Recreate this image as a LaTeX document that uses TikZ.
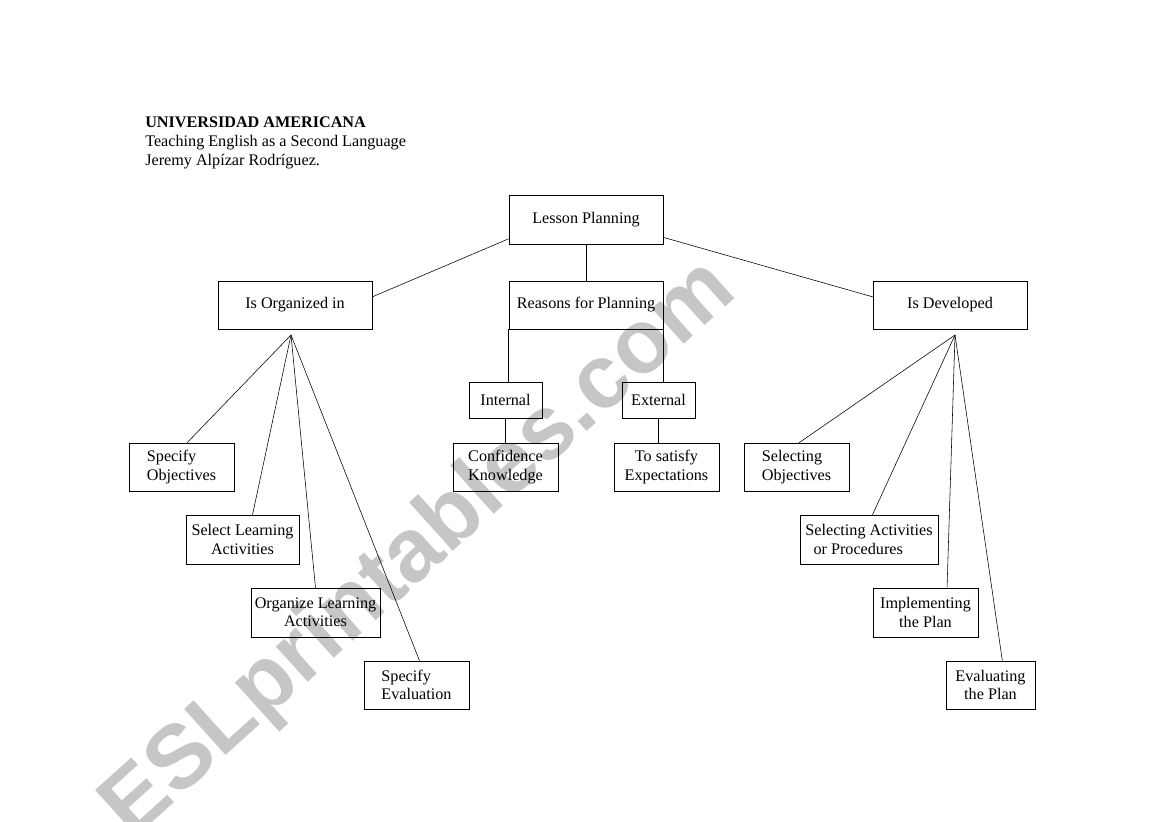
\documentclass[tikz,border=0pt]{standalone}
\usepackage{fontspec}
\setmainfont{Liberation Serif}
\newfontfamily\wmfont{Liberation Sans}
\usetikzlibrary{positioning}

\begin{document}
\begin{tikzpicture}[
    x=0.025cm, y=-0.025cm,
    font=\fontsize{11.5}{13}\selectfont,
    box/.style 2 args={draw, thin, inner sep=1pt, align=center, minimum width=#1*0.025cm, minimum height=#2*0.025cm},
    link/.style={draw, thin}
]
\useasboundingbox (0,0) rectangle (1169,821);

% watermark
\node[rotate=42, text=gray!45, font=\wmfont\bfseries\fontsize{64}{64}\selectfont] (wm) at (420,550) {ESLprintables.com};

% heading
\node[anchor=north west, align=left, inner sep=0pt, font=\fontsize{11.5}{13.5}\selectfont] (head) at (145,117)
    {\textbf{UNIVERSIDAD AMERICANA}\\Teaching English as a Second Language\\Jeremy Alpízar Rodríguez.};

% top levels
\node[box={154}{49}] (lp) at (586,219.5) {Lesson Planning};
\node[box={154}{48}] (org) at (295,305) {Is Organized in};
\node[box={154}{48}] (rfp) at (586,305) {Reasons for Planning};
\node[box={154}{48}] (dev) at (950,305) {Is Developed};

% reasons
\node[box={73}{36}] (int) at (505.5,400) {Internal};
\node[box={73}{36}] (ext) at (658.5,400) {External};
\node[box={105}{48}] (conf) at (505.5,467) {Confidence\\Knowledge};
\node[box={105}{48}] (sat) at (666.5,467) {To satisfy\\Expectations};

% organized in
\node[box={105}{48}, align=left] (so) at (181.5,467) {Specify\\Objectives};
\node[box={113}{49}] (sla) at (242.5,539.5) {Select Learning\\Activities};
\node[box={129}{49}] (ola) at (315.5,612.5) {Organize Learning\\Activities};
\node[box={105}{48}, align=left] (se) at (416.5,685) {Specify\\Evaluation};

% developed
\node[box={105}{48}, align=left] (selo) at (796.5,467) {Selecting\\Objectives};
\node[box={138}{49}, align=left] (sela) at (869,539.5) {Selecting Activities\\\ \ or Procedures};
\node[box={105}{49}] (imp) at (925.5,612.5) {Implementing\\the Plan};
\node[box={89}{48}] (evp) at (990.5,685) {Evaluating\\the Plan};

\coordinate (orgfan) at (291,335);
\coordinate (devfan) at (955,335);

\draw[link] (lp.194) -- (org.6);
\draw[link] (lp.south) -- (rfp.north);
\draw[link] (lp.-13.5) -- (dev.174);

\draw[link] (rfp.south west) -- (rfp.south west |- int.north);
\draw[link] (rfp.south east) -- (rfp.south east |- ext.north);
\draw[link] (int.south) -- (conf.north);
\draw[link] (ext.south) -- (ext.south |- sat.north);

\draw[link] (orgfan) -- (so.77);
\draw[link] (orgfan) -- (sla.68);
\draw[link] (orgfan) -- (ola.north);
\draw[link] (orgfan) -- (se.83);

\draw[link] (devfan) -- (selo.84);
\draw[link] (devfan) -- (sela.82);
\draw[link] (devfan) -- (imp.49);
\draw[link] (devfan) -- (evp.64);
\end{tikzpicture}
\end{document}
